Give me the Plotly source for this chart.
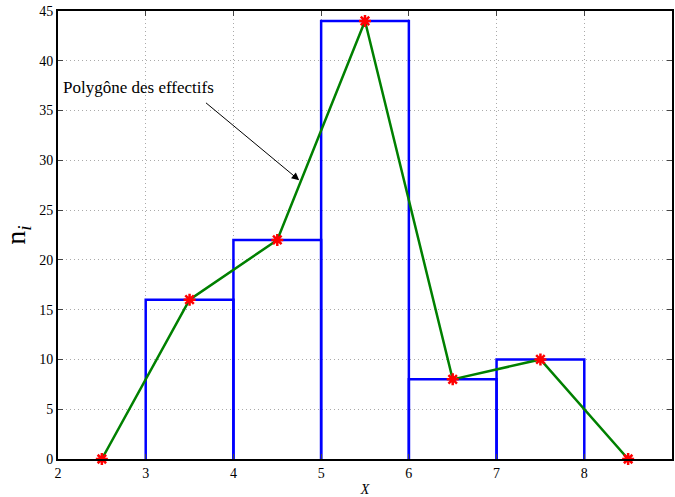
import plotly.graph_objects as go

bin_left = [3, 4, 5, 6, 7]
counts = [16, 22, 44, 8, 10]
poly_x = [2.5, 3.5, 4.5, 5.5, 6.5, 7.5, 8.5]
poly_y = [0, 16, 22, 44, 8, 10, 0]
x_ticks = [2, 3, 4, 5, 6, 7, 8, 9]
y_ticks = [0, 5, 10, 15, 20, 25, 30, 35, 40, 45]

# step outline of histogram from the bins
sx, sy = [], []
for left, c in zip(bin_left, counts):
    sx += [left, left, left + 1, left + 1, None]
    sy += [0, c, c, 0, None]

fig = go.Figure()
fig.add_trace(go.Scatter(x=sx, y=sy, mode="lines",
                         line=dict(color="#0000ff", width=2.5), hoverinfo="skip"))
fig.add_trace(go.Scatter(x=poly_x, y=poly_y, mode="lines",
                         line=dict(color="#008000", width=2.5)))
fig.add_trace(go.Scatter(x=poly_x, y=poly_y, mode="markers",
                         marker=dict(symbol="asterisk-open", size=10, color="#ff0000",
                                     line=dict(color="#ff0000", width=2.5)),
                         cliponaxis=False))

font = "Liberation Serif"
axis_common = dict(showline=True, linecolor="black", linewidth=2, mirror="ticks",
                   ticks="inside", ticklen=5, tickcolor="#444",
                   showgrid=True, gridcolor="#aaa", griddash="1px,3px", gridwidth=1,
                   zeroline=False, tickfont=dict(family=font, size=14, color="black"))

fig.update_layout(
    width=675, height=497,
    margin=dict(l=58, r=1, t=11, b=38),
    paper_bgcolor="white", plot_bgcolor="white",
    showlegend=False,
    font=dict(family=font, color="black"),
    xaxis=dict(range=[2, 9], tickvals=x_ticks, **axis_common,
               title=dict(text="<i>X</i>", font=dict(family=font, size=14, color="black"), standoff=4)),
    yaxis=dict(range=[0, 45], tickvals=y_ticks, **axis_common,
               title=dict(text="n<sub><i>i</i></sub>", font=dict(family=font, size=28, color="black"), standoff=12)),
    annotations=[dict(x=4.75, y=28.0, ax=3.67, ay=35.9, axref="x", ayref="y",
                      xref="x", yref="y", text="", showarrow=True,
                      arrowhead=2, arrowsize=1.5, arrowwidth=1, arrowcolor="black"),
                 dict(x=2.03, y=37.3, xref="x", yref="y", xanchor="left",
                      text="Polygône des effectifs", showarrow=False,
                      font=dict(family=font, size=17, color="black"))],
)

fig.write_html("out.html")
